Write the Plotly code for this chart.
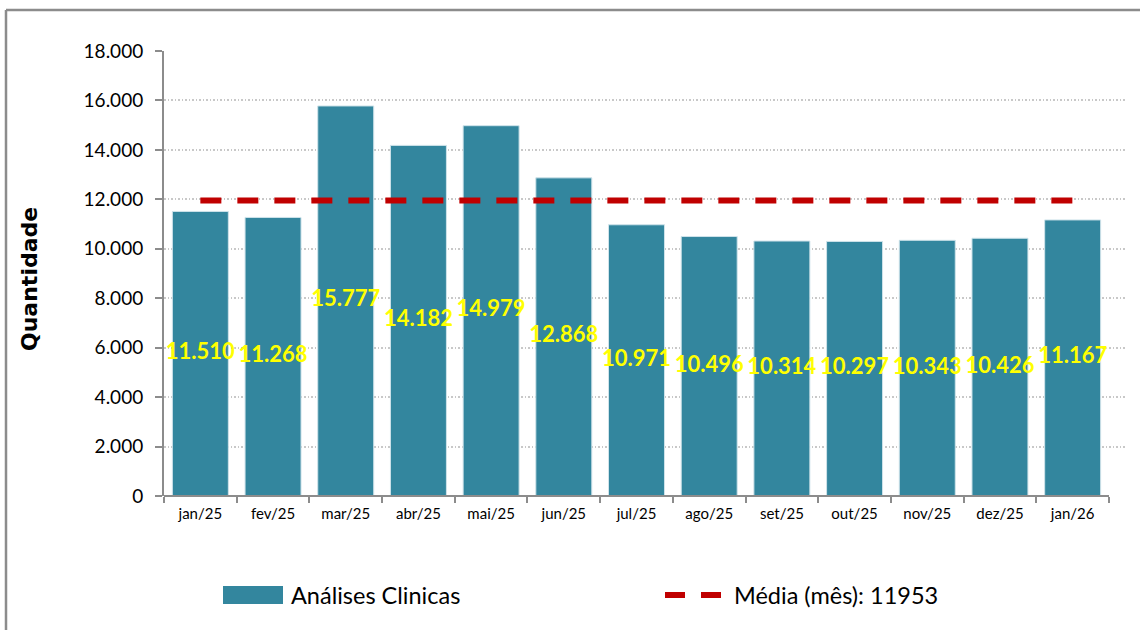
import plotly.graph_objects as go

categories = ["jan/25", "fev/25", "mar/25", "abr/25", "mai/25", "jun/25", "jul/25",
              "ago/25", "set/25", "out/25", "nov/25", "dez/25", "jan/26"]
values = [11510, 11268, 15777, 14182, 14979, 12868, 10971, 10496, 10314, 10297, 10343, 10426, 11167]
mean_value = 11953
y_ticks = [0, 2000, 4000, 6000, 8000, 10000, 12000, 14000, 16000, 18000]

def fmt(v):
    return f"{v:,}".replace(",", ".")

BAR_COLOR = "#33869E"
FONT = "Lato"

fig = go.Figure()
fig.add_trace(go.Bar(
    x=categories, y=values, name="Análises Clinicas",
    marker=dict(color=BAR_COLOR, line=dict(color="#cfe3ea", width=1)),
    width=0.77, hoverinfo="y", showlegend=False,
))
fig.add_trace(go.Scatter(
    x=categories, y=[mean_value] * len(categories), mode="lines",
    name=f"Média (mês): {mean_value}",
    line=dict(color="#C00000", width=6, dash="21px,16px"), showlegend=False,
))
fig.add_trace(go.Scatter(
    x=categories, y=[v / 2 for v in values], mode="text",
    text=[fmt(v) for v in values],
    textfont=dict(family=FONT, size=22, color="#FFFF00", weight="bold"),
    textposition="middle center", showlegend=False, hoverinfo="skip",
))

L, R, T, B = 164, 13, 51, 134
W, H = 1140, 630
pw = W - L - R
ph = H - T - B

def px_x(p):
    return (p - L) / pw

def px_y(p):
    return (H - B - p) / ph

shapes = [
    # outer frame
    dict(type="line", xref="paper", yref="paper", x0=px_x(6), x1=px_x(1145),
         y0=px_y(10), y1=px_y(10), line=dict(color="#8c8c8c", width=2.5)),
    dict(type="line", xref="paper", yref="paper", x0=px_x(6), x1=px_x(6),
         y0=px_y(10), y1=px_y(640), line=dict(color="#8c8c8c", width=2.5)),
    # x axis line over categories
    dict(type="line", xref="x", yref="paper", x0=-0.5, x1=len(categories) - 0.5,
         y0=0, y1=0, line=dict(color="#8c8c8c", width=2)),
    # legend swatches
    dict(type="rect", xref="paper", yref="paper", x0=px_x(223), x1=px_x(283),
         y0=px_y(604), y1=px_y(586), fillcolor=BAR_COLOR, line=dict(width=0)),
    dict(type="line", xref="paper", yref="paper", x0=px_x(665), x1=px_x(685),
         y0=px_y(595), y1=px_y(595), line=dict(color="#C00000", width=6)),
    dict(type="line", xref="paper", yref="paper", x0=px_x(701), x1=px_x(721),
         y0=px_y(595), y1=px_y(595), line=dict(color="#C00000", width=6)),
]

annotations = [
    dict(text="<b>Quantidade</b>", xref="paper", yref="paper", x=px_x(29), y=px_y(279),
         xanchor="center", yanchor="middle",
         textangle=-90, showarrow=False,
         font=dict(family="DejaVu Sans", size=22, color="#000000")),
    dict(text="Análises Clinicas", xref="paper", yref="paper", x=px_x(289), y=px_y(595),
         xanchor="left", yanchor="middle", showarrow=False,
         font=dict(family=FONT, size=23.5, color="#000000")),
    dict(text=f"Média (mês): {mean_value}", xref="paper", yref="paper", x=px_x(732), y=px_y(595),
         xanchor="left", yanchor="middle", showarrow=False,
         font=dict(family=FONT, size=23.5, color="#000000")),
]

fig.update_layout(
    width=W, height=H, autosize=False,
    margin=dict(l=L, r=R, t=T, b=B),
    paper_bgcolor="white", plot_bgcolor="white",
    separators=",.",
    bargap=0.23,
    shapes=shapes, annotations=annotations,
    font=dict(family=FONT, color="#000000"),
)
fig.update_xaxes(
    type="category", range=[-0.5, len(categories) - 0.5 + 18 / 72.7],
    showline=False, showgrid=False, zeroline=False,
    tickson="boundaries", ticks="outside", ticklen=6, tickcolor="#8c8c8c", tickwidth=2,
    tickfont=dict(family=FONT, size=15, color="#000000"),
    ticklabelstandoff=7,
)
fig.update_yaxes(
    range=[0, 18000], tickvals=y_ticks, tickformat=",d",
    showline=True, linecolor="#8c8c8c", linewidth=2,
    ticks="outside", ticklen=7, tickcolor="#8c8c8c", tickwidth=2,
    showgrid=True, gridcolor="#c8c8c8", gridwidth=1.5, griddash="1.5px,2px",
    zeroline=False,
    tickfont=dict(family=FONT, size=19, color="#000000"),
    ticklabelstandoff=8,
)

fig.write_html("out.html", config={"displayModeBar": False},
               post_script="document.body.style.margin='0';")
